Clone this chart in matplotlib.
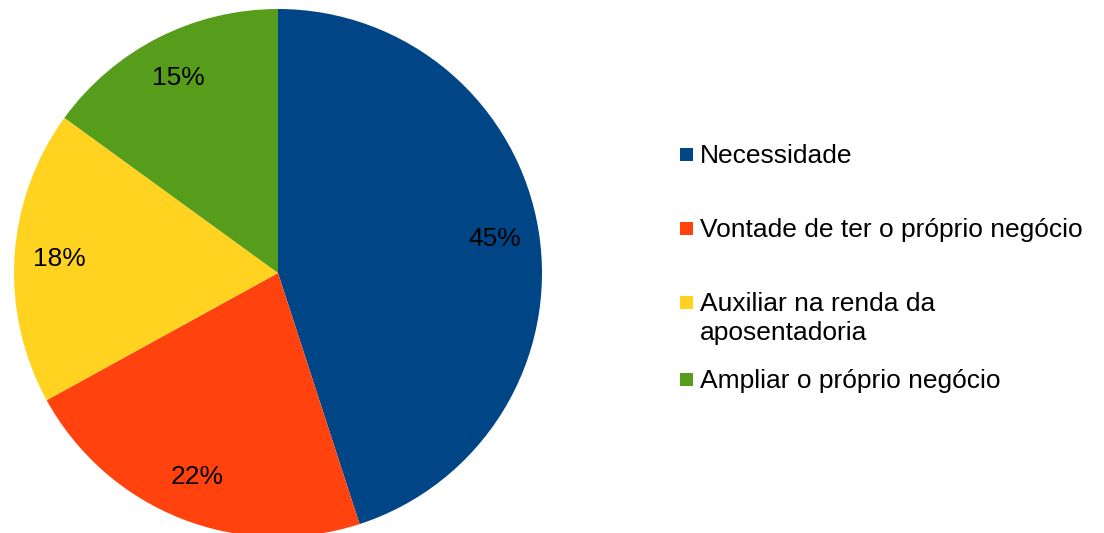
import matplotlib
matplotlib.use("Agg")
import matplotlib.pyplot as plt
from matplotlib.patches import Rectangle

categories = ["Necessidade", "Vontade de ter o próprio negócio",
              "Auxiliar na renda da\naposentadoria", "Ampliar o próprio negócio"]
values = [45, 22, 18, 15]
colors = ["#004586", "#ff420e", "#ffd320", "#579d1c"]

W, H = 1104, 533
plt.rcParams['font.family'] = ['Liberation Sans', 'DejaVu Sans']
fig = plt.figure(figsize=(W / 100, H / 100), dpi=100)

cx, cy, r = 278, 273, 264
ax = fig.add_axes([(cx - r) / W, (H - cy - r) / H, 2 * r / W, 2 * r / H])
ax.pie(values, colors=colors, startangle=90, counterclock=False,
       autopct=lambda p: f"{p:.0f}%", pctdistance=0.83,
       radius=1, wedgeprops=dict(linewidth=0),
       textprops=dict(fontsize=19, color="black"))
ax.set_xlim(-1, 1)
ax.set_ylim(-1, 1)
ax.set_aspect("equal")
ax.axis("off")

# legend drawn manually (uneven row spacing as in the reference)
rows_y = [154, 228, 302, 379]
for lab, col, y in zip(categories, colors, rows_y):
    fig.patches.append(Rectangle((680 / W, (H - y - 7) / H), 13 / W, 13 / H,
                                 transform=fig.transFigure, facecolor=col,
                                 edgecolor="none"))
    fig.text(700 / W, (H - y + 10) / H, lab, fontsize=19, va="top", ha="left",
             linespacing=1.28)

fig.savefig("out.png", dpi=100)
